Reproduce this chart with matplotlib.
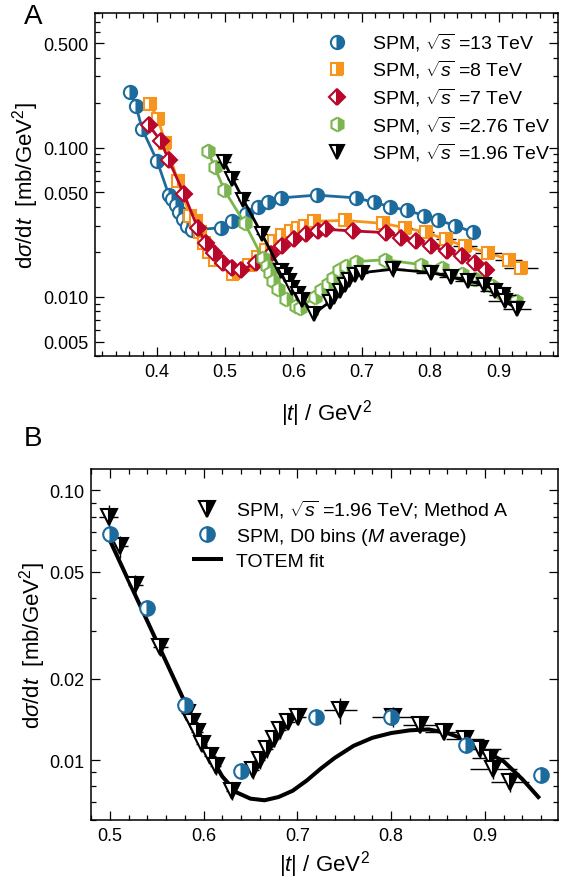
import numpy as np
import matplotlib.pyplot as plt
from matplotlib.lines import Line2D
from matplotlib.ticker import FixedLocator, FixedFormatter, LogLocator, MultipleLocator, NullFormatter

plt.rcParams['font.family'] = ['Liberation Sans', 'DejaVu Sans']
plt.rcParams['mathtext.fontset'] = 'custom'
plt.rcParams['mathtext.rm'] = 'Liberation Sans'
plt.rcParams['mathtext.it'] = 'Liberation Sans:italic'
plt.rcParams['mathtext.sf'] = 'Liberation Sans'

# ---- panel A data (|t| in GeV^2, dsigma/dt in mb/GeV^2) ----
t13 = [0.361, 0.370, 0.379, 0.401, 0.418, 0.423, 0.428, 0.433, 0.438, 0.445, 0.452,
       0.494, 0.511, 0.531, 0.548, 0.563, 0.582, 0.634, 0.692, 0.718, 0.742, 0.766,
       0.791, 0.812, 0.837, 0.863]
s13 = [0.236, 0.190, 0.133, 0.081, 0.048, 0.045, 0.041, 0.037, 0.033, 0.030, 0.028,
       0.029, 0.032, 0.036, 0.040, 0.043, 0.046, 0.048, 0.046, 0.043, 0.040, 0.038,
       0.035, 0.0325, 0.030, 0.027]

t8 = [0.390, 0.402, 0.413, 0.431, 0.449, 0.457, 0.463, 0.469, 0.476, 0.486, 0.512,
      0.535, 0.548, 0.560, 0.572, 0.584, 0.596, 0.607, 0.617, 0.630, 0.675, 0.731,
      0.764, 0.794, 0.823, 0.851, 0.885, 0.915, 0.933]
s8 = [0.196, 0.155, 0.108, 0.060, 0.035, 0.032, 0.027, 0.023, 0.020, 0.0175, 0.0143,
      0.0163, 0.0185, 0.0207, 0.0235, 0.026, 0.0275, 0.029, 0.030, 0.032, 0.0325, 0.031,
      0.029, 0.027, 0.0242, 0.0218, 0.0197, 0.0177, 0.0156]
t8_err = [0, 0, 0, 0, 0, 0, 0, 0, 0, 0, 0,
          0, 0, 0, 0, 0, 0, 0, 0, 0, 0, 0.008,
          0.010, 0.012, 0.015, 0.018, 0.020, 0.020, 0.025]

t7 = [0.389, 0.406, 0.418, 0.440, 0.460, 0.472, 0.484, 0.497, 0.510, 0.523, 0.545,
      0.567, 0.584, 0.601, 0.619, 0.636, 0.648, 0.687, 0.736, 0.758, 0.780, 0.802,
      0.824, 0.846, 0.865, 0.882]
s7 = [0.141, 0.111, 0.082, 0.049, 0.029, 0.023, 0.0195, 0.0169, 0.0155, 0.0150, 0.0168,
      0.0192, 0.0218, 0.0242, 0.0262, 0.0276, 0.0283, 0.0276, 0.0269, 0.0249, 0.0236, 0.0218,
      0.0202, 0.0187, 0.0169, 0.0152]

t276 = [0.475, 0.485, 0.499, 0.529, 0.555, 0.561, 0.566, 0.571, 0.577, 0.590, 0.604,
        0.610, 0.631, 0.641, 0.650, 0.658, 0.667, 0.677, 0.692, 0.734, 0.787, 0.818,
        0.846, 0.866, 0.890, 0.906, 0.926]
s276 = [0.095, 0.074, 0.052, 0.031, 0.0182, 0.016, 0.0145, 0.0128, 0.0112, 0.0097, 0.0087,
        0.0084, 0.0100, 0.0111, 0.0121, 0.0133, 0.0150, 0.0160, 0.0172, 0.0177, 0.0164, 0.0156,
        0.0141, 0.0131, 0.0118, 0.0105, 0.0093]
s276_err = [0.010, 0.007, 0.005, 0.002, 0, 0, 0, 0, 0, 0, 0,
            0, 0, 0, 0, 0, 0, 0, 0, 0, 0, 0,
            0, 0, 0, 0, 0]

# 1.96 TeV, method A (shown in both panels)
t196 = [0.499, 0.511, 0.527, 0.554, 0.582, 0.588, 0.593, 0.598, 0.607, 0.613, 0.630,
        0.653, 0.660, 0.668, 0.675, 0.682, 0.690, 0.701, 0.746, 0.802, 0.831, 0.856,
        0.879, 0.895, 0.906, 0.909, 0.927]
s196 = [0.080, 0.062, 0.0446, 0.0263, 0.0149, 0.0139, 0.0127, 0.0115, 0.0104, 0.0095, 0.0077,
        0.0092, 0.0100, 0.0110, 0.0120, 0.0129, 0.0139, 0.0145, 0.0153, 0.0145, 0.0135, 0.0127,
        0.0120, 0.0110, 0.0102, 0.0093, 0.0083]
t196_err = [0.010, 0.008, 0.008, 0.008, 0.006, 0.006, 0.006, 0.006, 0.006, 0.006, 0.006,
            0.006, 0.006, 0.006, 0.006, 0.006, 0.008, 0.008, 0.018, 0.022, 0.018, 0.020,
            0.020, 0.022, 0.020, 0.025, 0.020]
s196_err = [0.0085, 0.006, 0.004, 0.002, 0.0008, 0.0008, 0.0008, 0.0007, 0.0007, 0.0007, 0.0006,
            0.0007, 0.0007, 0.0008, 0.0008, 0.0009, 0.0009, 0.0010, 0.0017, 0.0012, 0.0009, 0.0008,
            0.0008, 0.0008, 0.0008, 0.0008, 0.0007]

# ---- panel B data ----
t_d0 = [0.50, 0.54, 0.58, 0.64, 0.72, 0.80, 0.88, 0.96]
s_d0 = [0.069, 0.0365, 0.016, 0.0091, 0.0145, 0.0145, 0.0114, 0.0088]

t_totem = [0.500, 0.520, 0.540, 0.560, 0.575, 0.590, 0.605, 0.620, 0.635, 0.650, 0.665,
           0.680, 0.695, 0.710, 0.725, 0.740, 0.760, 0.780, 0.800, 0.820, 0.840, 0.860,
           0.880, 0.900, 0.920, 0.940, 0.957]
s_totem = [0.0654, 0.0463, 0.0328, 0.0232, 0.0179, 0.0138, 0.0107, 0.0087, 0.0076, 0.0072, 0.0071,
           0.0073, 0.0077, 0.0084, 0.0093, 0.0102, 0.0113, 0.0121, 0.0126, 0.0129, 0.0130, 0.0126,
           0.0119, 0.0108, 0.0099, 0.0085, 0.0073]

labels_A = [r'SPM, $\sqrt{s}$ =13 TeV', r'SPM, $\sqrt{s}$ =8 TeV', r'SPM, $\sqrt{s}$ =7 TeV',
            r'SPM, $\sqrt{s}$ =2.76 TeV', r'SPM, $\sqrt{s}$ =1.96 TeV']
labels_B = [r'SPM, $\sqrt{s}$ =1.96 TeV; Method A', r'SPM, D0 bins ($M$ average)', 'TOTEM fit']

c_blue = '#1c6b9c'
c_orange = '#f7941d'
c_red = '#b8072a'
c_green = '#7ab54e'
c_black = 'black'

W, H = 562, 887
fig = plt.figure(figsize=(W / 100, H / 100), dpi=100)
axA = fig.add_axes([95 / W, 1 - 357 / H, (558 - 95) / W, (357 - 14) / H])
axB = fig.add_axes([91 / W, 1 - 821 / H, (558 - 91) / W, (821 - 470) / H])


def style(ax, xpad):
    ax.set_yscale('log')
    ax.tick_params(which='both', direction='in', top=True, right=True, width=0.9)
    ax.tick_params(which='major', length=6.5, labelsize=13, pad=5)
    ax.tick_params(which='minor', length=3.5)
    ax.xaxis.set_major_locator(MultipleLocator(0.1))
    ax.xaxis.set_minor_locator(MultipleLocator(0.02))
    ax.yaxis.set_minor_locator(LogLocator(subs=np.arange(1, 10), numticks=20))
    ax.yaxis.set_minor_formatter(NullFormatter())
    for s in ax.spines.values():
        s.set_linewidth(1.1)
    ax.set_xlabel(r'|$t$| / GeV$^2$', fontsize=16, labelpad=xpad)
    ax.set_ylabel(r'd$\sigma$/d$t$  [mb/GeV$^2$]', fontsize=16, labelpad=1)


def series(ax, x, y, marker, color, ms, z, xerr=None, yerr=None, line=True):
    if line:
        ax.plot(x, y, '-', color=color, lw=2.0, zorder=z)
    if xerr is not None or yerr is not None:
        ax.errorbar(x, y, xerr=xerr, yerr=yerr, fmt='none', ecolor='black',
                    elinewidth=1.0, capsize=0, zorder=z + 0.1)
    ax.plot(x, y, ls='none', marker=marker, ms=ms, mfc=color, mfcalt='white',
            mec=color, mew=1.5, fillstyle='right', zorder=z + 0.2)


def handle(marker, color, ms):
    return Line2D([], [], ls='none', marker=marker, ms=ms, mfc=color, mfcalt='white',
                  mec=color, mew=1.5, fillstyle='right')


# ---- panel A ----
style(axA, 12)
series(axA, t13, s13, 'o', c_blue, 9.5, 2)
series(axA, t8, s8, 's', c_orange, 9, 3, xerr=t8_err)
series(axA, t7, s7, 'D', c_red, 8.5, 4)
series(axA, t276, s276, 'h', c_green, 10, 5, yerr=s276_err)
series(axA, t196, s196, 'v', c_black, 10.5, 6, xerr=t196_err, yerr=s196_err)
axA.set_xlim(0.31, 0.987)
axA.set_ylim(0.004, 0.8)
axA.yaxis.set_major_locator(FixedLocator([0.005, 0.01, 0.05, 0.1, 0.5]))
axA.yaxis.set_major_formatter(FixedFormatter(['0.005', '0.010', '0.050', '0.100', '0.500']))

hA = [handle('o', c_blue, 9.5), handle('s', c_orange, 9), handle('D', c_red, 8.5),
      handle('h', c_green, 10), handle('v', c_black, 10.5)]
axA.legend(hA, labels_A, loc='upper left', bbox_to_anchor=(318 / W, 1 - 22 / H),
           bbox_transform=fig.transFigure, frameon=False, fontsize=14,
           handlelength=1.0, handletextpad=1.3, labelspacing=0.28, borderpad=0)

# ---- panel B ----
style(axB, 3)
axB.plot(t_totem, s_totem, '-', color='black', lw=2.9, zorder=2)
series(axB, t196, s196, 'v', c_black, 11.5, 3, xerr=t196_err, yerr=s196_err, line=False)
series(axB, t_d0, s_d0, 'o', c_blue, 10.5, 4, line=False)
axB.set_xlim(0.48, 0.978)
axB.set_ylim(0.006, 0.12)
axB.yaxis.set_major_locator(FixedLocator([0.01, 0.02, 0.05, 0.1]))
axB.yaxis.set_major_formatter(FixedFormatter(['0.01', '0.02', '0.05', '0.10']))

hB = [handle('v', c_black, 11.5), handle('o', c_blue, 10.5),
      Line2D([], [], color='black', lw=2.9)]
axB.legend(hB, labels_B, loc='upper left', bbox_to_anchor=(184 / W, 1 - 489 / H),
           bbox_transform=fig.transFigure, frameon=False, fontsize=14,
           handlelength=1.4, handletextpad=0.75, labelspacing=0.3, borderpad=0)

fig.text(24 / W, 1 - 4 / H, 'A', fontsize=20, va='top', ha='left')
fig.text(24 / W, 1 - 426 / H, 'B', fontsize=20, va='top', ha='left')

fig.savefig('out.png', dpi=100)
